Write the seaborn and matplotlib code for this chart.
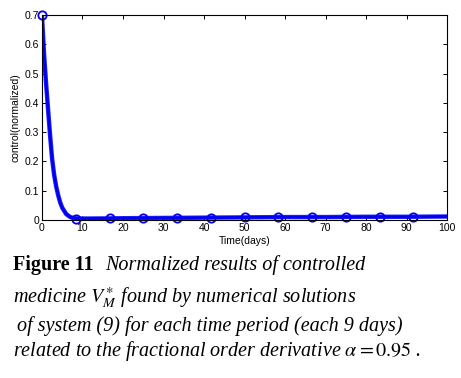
import pandas as pd
import seaborn as sns
import numpy as np
import matplotlib.pyplot as plt

# Curve values
time_days = [0, 0.5, 1, 1.5, 2, 2.5, 3, 3.5, 4, 4.5, 5, 6, 7, 8, 9, 12, 20, 30, 40, 50, 60, 70, 80, 90, 100]
control = [0.70, 0.57, 0.47, 0.38, 0.29, 0.21, 0.155, 0.115, 0.085, 0.06, 0.042, 0.02, 0.01, 0.006, 0.005,
           0.005, 0.006, 0.007, 0.008, 0.009, 0.010, 0.010, 0.011, 0.011, 0.012]

# Marker points (one every 100/12 days)
marker_t = [0, 8.33, 16.67, 25, 33.33, 41.67, 50, 58.33, 66.67, 75, 83.33, 91.67]
marker_v = [0.70, 0.005, 0.007, 0.007, 0.008, 0.008, 0.009, 0.010, 0.010, 0.010, 0.011, 0.011]

x_ticks = list(range(0, 101, 10))
y_ticks = [0, 0.1, 0.2, 0.3, 0.4, 0.5, 0.6, 0.7]
y_tick_labels = ["0", "0.1", "0.2", "0.3", "0.4", "0.5", "0.6", "0.7"]

df = pd.DataFrame({"Time": time_days, "control": control})
mk = pd.DataFrame({"Time": marker_t, "control": marker_v})

sns.set_style("white")
plt.rcParams['font.family'] = ['Liberation Sans', 'DejaVu Sans']
plt.rcParams['mathtext.fontset'] = 'stix'
plt.rcParams['text.color'] = 'black'
plt.rcParams['axes.labelcolor'] = 'black'
plt.rcParams['xtick.color'] = 'black'
plt.rcParams['ytick.color'] = 'black'

fig = plt.figure(figsize=(4.61, 3.78), dpi=100)
ax = fig.add_axes([0.091, 0.418, 0.879, 0.542])

sns.lineplot(data=df, x="Time", y="control", ax=ax, color="#0000ff", linewidth=3.2, alpha=0.85)
sns.lineplot(data=df, x="Time", y="control", ax=ax, color="#0000ee", linewidth=2.0)
sns.lineplot(data=mk, x="Time", y="control", ax=ax, color="#0000ff", linewidth=0,
             marker="o", markersize=6, markerfacecolor="none", markeredgecolor="#0000ff",
             markeredgewidth=1.3, clip_on=False)

ax.set_xlim(0, 100)
ax.set_ylim(0, 0.7)
ax.set_xticks(x_ticks)
ax.set_yticks(y_ticks)
ax.set_yticklabels(y_tick_labels)
ax.tick_params(direction="in", length=3, width=0.7, labelsize=7.5, top=True, right=True,
               bottom=True, left=True, pad=2)
for s in ax.spines.values():
    s.set_color("black")
    s.set_linewidth(0.8)
ax.set_xlabel("Time(days)", fontsize=7.5, labelpad=2)
ax.set_ylabel("control(normalized)", fontsize=7.5, labelpad=3)

# caption
cap = dict(family="Liberation Serif", fontsize=14.5, ha="left", va="baseline", color="black")
fig.text(0.028, 0.285, "Figure 11", fontweight="bold", **cap)
fig.text(0.228, 0.285, "Normalized results of controlled", style="italic", **cap)
fig.text(0.028, 0.200, r"medicine $V_M^{\ast}$ found by numerical solutions", style="italic", **cap)
fig.text(0.036, 0.125, "of system (9) for each time period (each 9 days)", style="italic", **cap)
fig.text(0.028, 0.058, r"related to the fractional order derivative $\alpha = \mathrm{0.95}$ .", style="italic", **cap)

fig.savefig("out.png", dpi=100)
